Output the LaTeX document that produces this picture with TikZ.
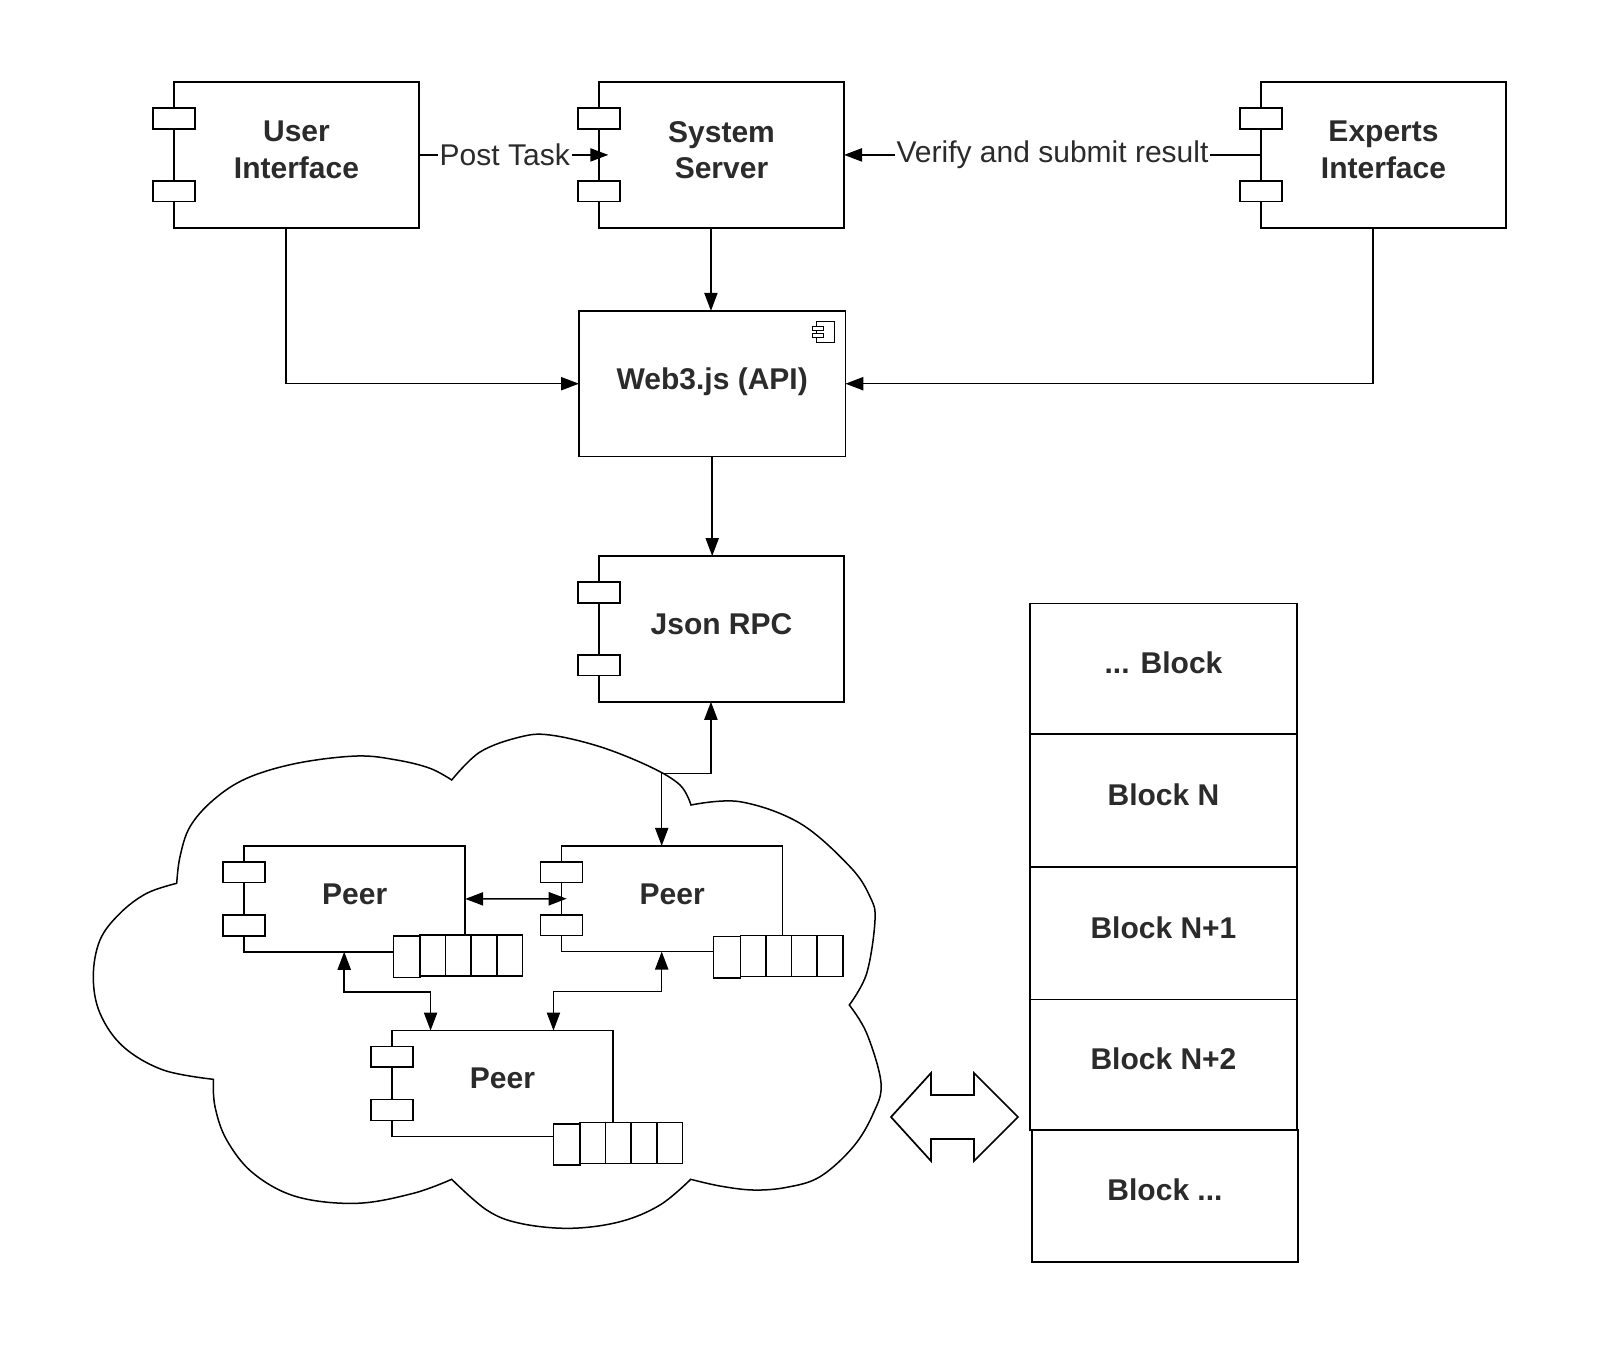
\documentclass[tikz,border=0pt]{standalone}
\usepackage{fontspec}
\setmainfont{Liberation Sans}
\usetikzlibrary{arrows.meta,calc,fit}
\definecolor{txt}{HTML}{2B2B2B}
\begin{document}
\begin{tikzpicture}[x=0.5pt, y=-0.5pt,
  box/.style={draw, line width=0.9pt, fill=white, minimum width=122.5pt, minimum height=72.85pt,
    font=\fontsize{15}{18.3}\selectfont\bfseries, text=txt, align=center, text depth=5pt,
    inner sep=0pt, outer sep=0pt},
  port/.style={draw, line width=0.9pt, fill=white, minimum width=21.15pt, minimum height=10.2pt,
    inner sep=0pt, outer sep=0pt},
  pbox/.style={draw, line width=0.75pt, fill=white, minimum width=110.5pt, minimum height=52.85pt,
    font=\fontsize{15}{18.3}\selectfont\bfseries, text=txt, text depth=5pt, inner sep=0pt, outer sep=0pt},
  pport/.style={draw, line width=0.75pt, fill=white, minimum width=21pt, minimum height=10.3pt,
    inner sep=0pt, outer sep=0pt},
  qcell/.style={draw, line width=0.75pt, fill=white, minimum width=12.8pt, minimum height=20.5pt,
    inner sep=0pt, outer sep=0pt},
  grp/.style={inner sep=0pt, outer sep=0pt},
  blk/.style={draw, line width=0.85pt, fill=white, minimum width=133.25pt,
    font=\fontsize{15}{18.3}\selectfont\bfseries, text=txt, text depth=6pt, inner sep=0pt, outer sep=0pt},
  conn/.style={line width=0.75pt, draw=black},
  arr/.style={-{Triangle[length=9pt,width=6.6pt]}},
  darr/.style={{Triangle[length=9pt,width=6.6pt]}-{Triangle[length=9pt,width=6.6pt]}},
  lbl/.style={fill=white, inner sep=1pt, font=\fontsize{15}{18}\selectfont, text=txt},
  cloudline/.style={line width=0.75pt, draw=black, line join=miter},
]
\fill[white] (0,0) rectangle (1600,1345);
\useasboundingbox (0,0) rectangle (1600,1345);

% ---------- cloud ----------
\draw[cloudline]
  plot[smooth, tension=0.6] coordinates {(176.7,883.3) (180,856.7) (190,826.7) (213.3,800) (246.7,778.3) (296.7,763.3) (356.7,756) (396.7,760) (430,768.3) (451.7,780)}
  -- plot[smooth, tension=0.6] coordinates {(451.7,780) (480,752) (520,737) (550,735) (600,746.7) (650,766.7) (680,785) (691,805)}
  -- plot[smooth, tension=0.6] coordinates {(691,805) (740,801.7) (800,823.3) (850,866.7) (870,896.7) (875,920) (866.7,973.3) (849.3,1005)}
  -- plot[smooth, tension=0.6] coordinates {(849.3,1005) (866.7,1033.3) (881,1083) (873.3,1113.3) (853.3,1146.7) (820,1176.7) (786.7,1187.3) (753.3,1190) (720,1186) (690.7,1179.3)}
  -- plot[smooth, tension=0.6] coordinates {(690.7,1179.3) (660,1205) (620,1221.7) (570,1228.3) (520,1223.3) (486.7,1210) (451.7,1179.3)}
  -- plot[smooth, tension=0.6] coordinates {(451.7,1179.3) (413.3,1193.3) (356.7,1203.3) (296.7,1196.7) (253.3,1173.3) (226.7,1140) (215,1106.7) (213.3,1079.3)}
  -- plot[smooth, tension=0.6] coordinates {(213.3,1079.3) (163.3,1070) (123.3,1046.7) (100,1013.3) (93.3,976.7) (100,940) (120,913.3) (146.7,893.3) (176.7,883.3)}
  -- cycle;

% ---------- top components ----------
\node[box] (ui) at (296.5,154.9) {User\\Interface};
\node[port] (uip1) at ($(ui.west)+(0,-36.4)$) {};
\node[port] (uip2) at ($(ui.west)+(0,36.4)$) {};
\node[grp, fit=(uip1)(uip2)(ui)] (uiall) {};

\node[box] (ss) at (721.5,154.9) {System\\Server};
\node[port] (ssp1) at ($(ss.west)+(0,-36.4)$) {};
\node[port] (ssp2) at ($(ss.west)+(0,36.4)$) {};
\node[grp, fit=(ssp1)(ssp2)(ss)] (ssall) {};

\node[box] (ex) at (1383.5,154.9) {Experts\\Interface};
\node[port] (exp1) at ($(ex.west)+(0,-36.4)$) {};
\node[port] (exp2) at ($(ex.west)+(0,36.4)$) {};
\node[grp, fit=(exp1)(exp2)(ex)] (exall) {};

\node[box, minimum width=133.2pt] (web) at (712.2,383.7) {Web3.js (API)};
\draw[line width=0.4pt, fill=white] (816,321) rectangle (834.3,342.3);
\draw[line width=0.4pt, fill=white] (812.7,326.7) rectangle (823.3,330.7);
\draw[line width=0.4pt, fill=white] (812.7,333.7) rectangle (823.3,337.7);

\node[box] (js) at (721.5,628.9) {Json RPC};
\node[port] (jsp1) at ($(js.west)+(0,-36.4)$) {};
\node[port] (jsp2) at ($(js.west)+(0,36.4)$) {};
\node[grp, fit=(jsp1)(jsp2)(js)] (jsall) {};

% ---------- peers ----------
\node[pbox] (p1) at (354.7,898.9) {Peer};
\node[pport] (p1a) at ($(p1.west)+(0,-26.6)$) {};
\node[pport] (p1b) at ($(p1.west)+(0,26.6)$) {};
\node[grp, fit=(p1a)(p1b)(p1)] (p1all) {};

\node[pbox] (p2) at (672.2,898.7) {Peer};
\node[pport] (p2a) at ($(p2.west)+(0,-26.6)$) {};
\node[pport] (p2b) at ($(p2.west)+(0,26.6)$) {};
\node[grp, fit=(p2a)(p2b)(p2)] (p2all) {};

\node[pbox] (p3) at (502.4,1083.4) {Peer};
\node[pport] (p3a) at ($(p3.west)+(0,-26.6)$) {};
\node[pport] (p3b) at ($(p3.west)+(0,26.6)$) {};
\node[grp, fit=(p3a)(p3b)(p3)] (p3all) {};

\foreach \n/\L/\T in {1/393.3/935, 2/713.7/935.3, 3/553.3/1122.7} {
  \node[qcell, minimum width=13.35pt, minimum height=20.65pt, anchor=north west] (q\n c0) at (\L,\T+1.2) {};
  \foreach \i in {1,...,4}
    \node[qcell, anchor=north west] (q\n c\i) at ({\L+26.7+(\i-1)*25.6},\T) {};
}

% ---------- blockchain ----------
\node[blk, minimum height=65.35pt] (b1) at (1163.5,668.8) {... Block};
\node[blk, minimum height=66.35pt] (b2) at (1163.5,800.5) {Block N};
\node[blk, minimum height=66.4pt]  (b3) at (1163.5,933.2) {Block N+1};
\node[blk, minimum height=65.3pt]  (b4) at (1163.5,1064.9) {Block N+2};
\node[blk, minimum height=65.9pt]  (b5) at (1165,1196.1) {Block ...};

% double block arrow
\draw[line width=0.85pt, fill=white, line join=miter]
  (891,1117) -- (931,1073) -- (931,1095) -- (974,1095) -- (974,1073) -- (1018,1117)
  -- (974,1161) -- (974,1139) -- (931,1139) -- (931,1161) -- cycle;

% ---------- connectors ----------
\coordinate (ssin) at ($(ss.west)+(9.3,0)$);
\draw[conn, arr] (ui.east) -- (ssin) node[pos=0.453, lbl] {Post Task};
\draw[conn, arr] (ex.west) -- (ss.east) node[midway, lbl] {Verify and submit result};
\draw[conn, arr] (ssall.south) -- (ssall.south |- web.north);
\draw[conn, arr] (uiall.south) |- (web.west);
\draw[conn, arr] (exall.south) |- (web.east);
\draw[conn, arr] (web.south) -- (web.south |- js.north);
\draw[conn, darr] (jsall.south) -- ++(0,71.9) -| (p2all.north);
\coordinate (p2in) at ($(p2.west)+(5,0)$);
\draw[conn, darr] (p1.east) -- (p2in);
\draw[conn, darr] (p1all.south) -- ++(0,40) -| ($(p3.north west)!0.175!(p3.north east)$);
\draw[conn, darr] (p2all.south) -- ++(0,40) -| ($(p3.north west)!0.731!(p3.north east)$);
\end{tikzpicture}
\end{document}
